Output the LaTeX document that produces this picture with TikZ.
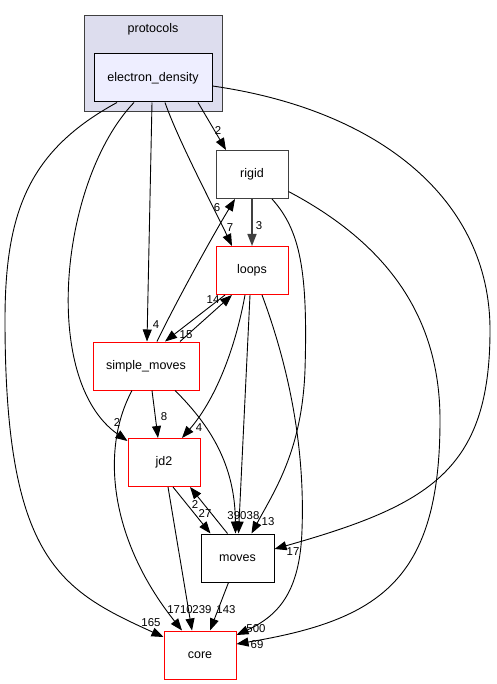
\documentclass[tikz,border=0pt]{standalone}
\usepackage{fontspec}
\setmainfont{Liberation Sans}
\usetikzlibrary{arrows.meta,calc}

\definecolor{clusterfill}{HTML}{DDDDEE}
\definecolor{dirfill}{HTML}{EEEEFF}
\definecolor{dgrey}{HTML}{404040}

\begin{document}
\begin{tikzpicture}[
    x=1pt, y=-1pt,
    >={Triangle[length=12pt,width=9pt]},
    font=\fontsize{12.5}{14}\selectfont,
    dir/.style={
        draw,
        line width=1pt,
        minimum width=72pt,
        minimum height=48pt,
        inner sep=0pt
    },
    plain/.style={dir, draw=black},
    grey/.style={dir, draw=dgrey},
    redir/.style={dir, draw=red},
    top/.style={dir, fill=dirfill, draw=black, minimum width=118pt},
    cluster/.style={draw=dgrey, fill=clusterfill, line width=1pt, minimum width=138pt, minimum height=96pt},
    edge/.style={->, line width=0.9pt},
    lbl/.style={font=\fontsize{11.4}{12}\selectfont, inner sep=0pt}
]
\useasboundingbox (0,0) rectangle (496,684);

% cluster
\node[cluster] (protocols) at (153,64) {};
\node (protocolsname) at (153,29) {protocols};

% directories
\node[top]   (ed)    at (153,78)    {electron\_density};
\node[grey]  (rigid) at (252,174.5) {rigid};
\node[redir] (loops) at (252,270.5) {loops};
\node[redir, minimum width=106pt] (sm) at (146,366) {simple\_moves};
\node[redir] (jd2)   at (164,462.5) {jd2};
\node[plain, minimum width=73pt] (moves) at (237.5,558) {moves};
\node[redir] (core)  at (200,655)   {core};

% from electron_density
\draw[edge] ([xshift=45pt]ed.south) -- ([xshift=-26pt]rigid.north) node[lbl] at (218,131) {2};
\draw[edge] ([xshift=12pt]ed.south) .. controls (178,140) and (215,210) .. ([xshift=-20pt]loops.north) node[lbl] at (230,228) {7};
\draw[edge] ([xshift=-1pt]ed.south) -- ([xshift=1pt]sm.north) node[lbl] at (156,325) {4};
\draw[edge] ([xshift=-19pt]ed.south) .. controls (60,180) and (40,380) .. ([yshift=-3pt]jd2.north west) node[lbl] at (117,423) {2};
\draw[edge] ([xshift=-36pt]ed.south) .. controls (30,150) and (5,210) .. (5,320) .. controls (5,560) and (60,590) .. ([yshift=18pt]core.west) node[lbl] at (151,623) {165};
\draw[edge] ([yshift=-8pt]ed.east) .. controls (380,110) and (490,200) .. (490,330) .. controls (490,470) and (430,505) .. ([yshift=9pt]moves.east) node[lbl] at (293,552) {17};

% from rigid
\draw[edge, draw=dgrey, line width=1.5pt] (rigid) -- (loops) node[lbl] at (259,226) {3};
\draw[edge] ([xshift=20pt]rigid.south) .. controls (300,230) and (308,270) .. (305,370) .. controls (302,450) and (275,490) .. ([xshift=14pt]moves.north) node[lbl] at (268,522) {13};
\draw[edge] ([yshift=-17pt]rigid.east) .. controls (380,240) and (440,310) .. (440,420) .. controls (440,580) and (380,620) .. ([yshift=11pt]core.east) node[lbl] at (257,645) {69};

% from loops
\draw[edge] ([xshift=10pt]loops.south) .. controls (290,370) and (305,450) .. (302,530) .. controls (300,590) and (280,615) .. ([yshift=20pt]core.east) node[lbl] at (256,629) {500};
\draw[edge] ([xshift=-2pt]loops.south) -- ([xshift=1pt]moves.north) node[lbl] at (253,516) {38};
\draw[edge] ([xshift=-27pt]loops.south) -- ([xshift=19pt]sm.north) node[lbl] at (186,335) {15};
\draw[edge] ([xshift=-7pt]loops.south) .. controls (235,350) and (215,400) .. ([xshift=18pt]jd2.north) node[lbl] at (199,428) {4};

% from simple_moves
\draw[edge] ([xshift=34pt]sm.north) -- ([xshift=-20pt]loops.south) node[lbl] at (213,300) {14};
\draw[edge] ([xshift=11pt]sm.north) .. controls (172,310) and (210,240) .. ([xshift=-17pt]rigid.south) node[lbl] at (217,208) {6};
\draw[edge] ([xshift=6pt]sm.south) -- ([xshift=-6pt]jd2.north) node[lbl] at (164,417) {8};
\draw[edge] ([xshift=29pt]sm.south) .. controls (215,430) and (235,470) .. ([xshift=-2pt]moves.north) node[lbl] at (237,516) {390};
\draw[edge] ([xshift=-14pt]sm.south) .. controls (100,450) and (110,540) .. ([xshift=-18pt]core.north) node[lbl] at (180,610) {1710};

% from jd2
\draw[edge] ([xshift=4pt]jd2.south) -- ([xshift=-8pt]core.north) node[lbl] at (202,610) {239};
\draw[edge] ([xshift=9pt]jd2.south) -- ([xshift=-27pt]moves.north) node[lbl] at (205,514) {27};

% from moves
\draw[edge] ([xshift=-10pt]moves.north) -- ([xshift=26pt]jd2.south) node[lbl] at (195,505) {2};
\draw[edge] ([xshift=-9pt]moves.south) -- ([xshift=10pt]core.north) node[lbl] at (226,610) {143};

\end{tikzpicture}
\end{document}
